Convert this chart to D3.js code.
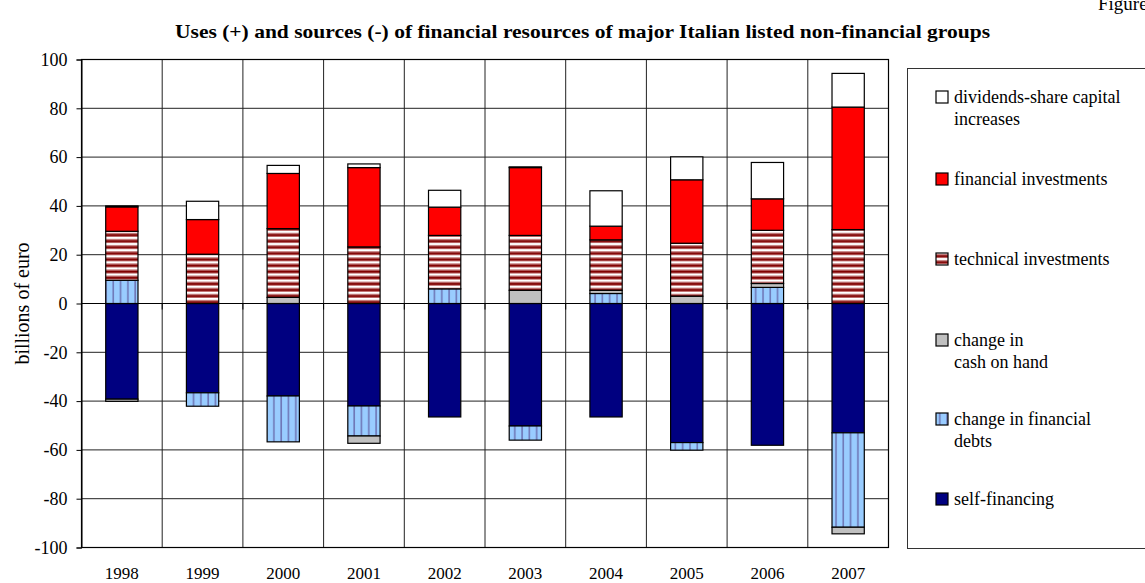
<!DOCTYPE html>
<html>
<head>
<meta charset="utf-8">
<script src="https://cdn.jsdelivr.net/npm/d3@7"></script>
<style>
  html, body { margin: 0; padding: 0; background: #fff; }
  svg { display: block; font-family: "Liberation Serif", "Times New Roman", serif; }
</style>
</head>
<body>
<svg id="chart" width="1145" height="583"></svg>
<script>
// Uses (+) and sources (-) of financial resources, billions of euro
const years = ["1998", "1999", "2000", "2001", "2002", "2003", "2004", "2005", "2006", "2007"];
const selfFinancing   = [-39.2, -36.6, -37.9, -42.0, -46.5, -50.2, -46.5, -57.0, -58.1, -53.0];
const financialDebts  = [9.5, -5.5, -18.8, -12.3, 6.0, -5.8, 4.1, -3.1, 6.6, -38.7];
const cashOnHand      = [-0.9, 0, 2.5, -3.0, 0, 5.4, 1.3, 3.0, 1.6, -2.7];
const technicalInv    = [20.1, 20.2, 28.2, 23.2, 21.9, 22.5, 20.7, 21.7, 21.8, 30.3];
const financialInv    = [10.0, 14.2, 22.6, 32.5, 11.6, 27.8, 5.6, 26.0, 12.9, 50.2];
const dividends       = [0.4, 7.5, 3.3, 1.5, 6.9, 0.3, 14.5, 9.4, 14.9, 13.8];
const yTicks = [-100, -80, -60, -40, -20, 0, 20, 40, 60, 80, 100];

const seriesKeys = ["self", "debts", "cash", "technical", "financial", "dividends"];
const seriesLabels = {
  dividends: ["dividends-share capital", "increases"],
  financial: ["financial investments"],
  technical: ["technical investments"],
  cash: ["change in", "cash on hand"],
  debts: ["change in financial", "debts"],
  self: ["self-financing"]
};
const seriesFill = {
  self: "#000080",
  debts: "url(#debtsPattern)",
  cash: "#c0c0c0",
  technical: "url(#techPattern)",
  financial: "#ff0000",
  dividends: "#ffffff"
};

const table = years.map((y, i) => ({
  year: y,
  self: selfFinancing[i],
  debts: financialDebts[i],
  cash: cashOnHand[i],
  technical: technicalInv[i],
  financial: financialInv[i],
  dividends: dividends[i]
}));

const svg = d3.select("#chart");
const plot = { left: 81.5, right: 888.5, top: 59.5, bottom: 547.5 };
const serif = "Liberation Serif, Times New Roman, serif";

// Fill patterns
const defs = svg.append("defs");
const tech = defs.append("pattern").attr("id", "techPattern")
  .attr("patternUnits", "userSpaceOnUse").attr("width", 8).attr("height", 6.1);
tech.append("rect").attr("width", 8).attr("height", 6.1).attr("fill", "#ffffff");
tech.append("rect").attr("y", 1.1).attr("width", 8).attr("height", 1).attr("fill", "#c07070");
tech.append("rect").attr("y", 2.1).attr("width", 8).attr("height", 2.2).attr("fill", "#800000");
tech.append("rect").attr("y", 4.3).attr("width", 8).attr("height", 0.9).attr("fill", "#c07070");

const debts = defs.append("pattern").attr("id", "debtsPattern")
  .attr("patternUnits", "userSpaceOnUse").attr("width", 7.3).attr("height", 10);
debts.append("rect").attr("width", 7.3).attr("height", 10).attr("fill", "#99ccff");
debts.append("rect").attr("x", 3).attr("width", 1.6).attr("height", 10).attr("fill", "#6f78b8");

// Scales
const x = d3.scaleBand().domain(years).range([plot.left, plot.right]).padding(0);
const barW = x.step() / 2.5;
const y = d3.scaleLinear().domain([-100, 100]).range([plot.bottom, plot.top]);

// Horizontal gridlines
svg.append("g").selectAll("line").data(yTicks).join("line")
  .attr("x1", plot.left).attr("x2", plot.right)
  .attr("y1", d => y(d)).attr("y2", d => y(d))
  .attr("stroke", "#222").attr("stroke-width", 1);

// Vertical gridlines between categories
svg.append("g").selectAll("line").data(years.slice(1)).join("line")
  .attr("x1", d => x(d)).attr("x2", d => x(d))
  .attr("y1", plot.top).attr("y2", plot.bottom)
  .attr("stroke", "#222").attr("stroke-width", 1);

// Category ticks hanging below the zero line
svg.append("g").selectAll("line").data(years.slice(1)).join("line")
  .attr("x1", d => x(d)).attr("x2", d => x(d))
  .attr("y1", y(0)).attr("y2", y(0) + 6)
  .attr("stroke", "#000").attr("stroke-width", 1);

// Plot frame
svg.append("rect")
  .attr("x", plot.left).attr("y", plot.top)
  .attr("width", plot.right - plot.left).attr("height", plot.bottom - plot.top)
  .attr("fill", "none").attr("stroke", "#000").attr("stroke-width", 1.2);

// Stacked bars (positive values stack upward, negative downward)
const stack = d3.stack().keys(seriesKeys).offset(d3.stackOffsetDiverging).order(d3.stackOrderNone);
const stacked = stack(table);

svg.append("g").selectAll("g").data(stacked).join("g")
  .attr("fill", s => seriesFill[s.key])
  .selectAll("rect").data(s => s.filter(d => d[1] - d[0] !== 0)).join("rect")
  .attr("x", d => x(d.data.year) + (x.step() - barW) / 2)
  .attr("width", barW)
  .attr("y", d => y(Math.max(d[0], d[1])))
  .attr("height", d => Math.abs(y(d[0]) - y(d[1])))
  .attr("stroke", "#000").attr("stroke-width", 1.2);

// Zero line
svg.append("line")
  .attr("x1", plot.left).attr("x2", plot.right)
  .attr("y1", y(0)).attr("y2", y(0))
  .attr("stroke", "#000").attr("stroke-width", 1);

// Y axis
const yAxis = d3.axisLeft(y).tickValues(yTicks).tickSize(5).tickPadding(9).tickFormat(d => String(d));
const yg = svg.append("g").attr("transform", `translate(${plot.left},0)`).call(yAxis);
yg.select(".domain").attr("stroke", "#000");
yg.selectAll(".tick line").attr("stroke", "#000");
yg.selectAll(".tick text").attr("font-size", 18).attr("fill", "#000").attr("font-family", serif);

// X axis labels
const xAxis = d3.axisBottom(x).tickSize(0).tickPadding(19);
const xg = svg.append("g").attr("transform", `translate(0,${plot.bottom})`).call(xAxis);
xg.select(".domain").remove();
xg.selectAll(".tick text").attr("font-size", 17).attr("fill", "#000").attr("font-family", serif);

// Y axis title
svg.append("text")
  .attr("transform", `translate(29,${y(0)}) rotate(-90)`)
  .attr("text-anchor", "middle")
  .attr("font-size", 20)
  .text("billions of euro");

// Chart title
svg.append("text")
  .attr("x", 175).attr("y", 38)
  .attr("font-size", 19).attr("font-weight", "bold")
  .attr("textLength", 815).attr("lengthAdjust", "spacingAndGlyphs")
  .text("Uses (+) and sources (-) of financial resources of major Italian listed non-financial groups");

// Figure marker at the top right edge
svg.append("text")
  .attr("x", 1098).attr("y", 10)
  .attr("font-size", 19)
  .text("Figure");

// Legend
const legend = svg.append("g");
legend.append("rect")
  .attr("x", 907.5).attr("y", 68.5).attr("width", 260).attr("height", 480)
  .attr("fill", "#fff").attr("stroke", "#333").attr("stroke-width", 1);

const legendKeys = ["dividends", "financial", "technical", "cash", "debts", "self"];
const legendY = [97, 179, 259, 340, 419, 499];
const items = legend.selectAll("g.item").data(legendKeys).join("g")
  .attr("class", "item")
  .attr("transform", (d, i) => `translate(936,${legendY[i]})`);
items.append("rect")
  .attr("x", 0).attr("y", -6).attr("width", 12).attr("height", 12)
  .attr("fill", d => seriesFill[d]).attr("stroke", "#000").attr("stroke-width", 1.2);
items.append("text")
  .attr("font-size", 18)
  .selectAll("tspan").data(d => seriesLabels[d]).join("tspan")
  .attr("x", 18).attr("y", (d, i) => 6 + i * 22)
  .text(d => d);
</script>
</body>
</html>
